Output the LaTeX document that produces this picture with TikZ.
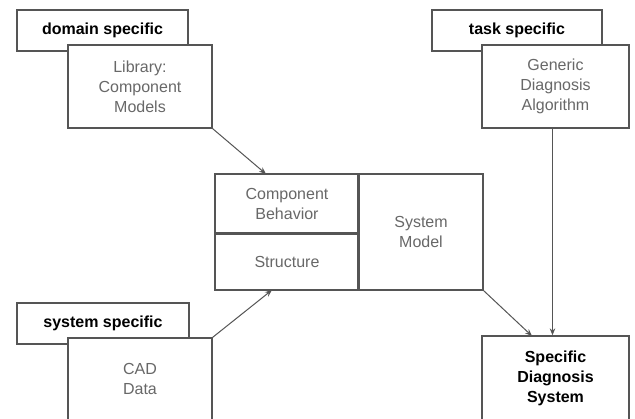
\documentclass[tikz,border=0pt]{standalone}
\usepackage{fontspec}
\setmainfont{Liberation Sans}
\usetikzlibrary{arrows.meta,calc}
\definecolor{linegray}{HTML}{555555}
\definecolor{textgray}{HTML}{686868}
\begin{document}
\begin{tikzpicture}[x=1pt,y=-1pt,
  box/.style={draw=linegray,line width=1.3pt,fill=white,inner sep=0pt,align=center,
    text=textgray,font=\fontsize{16}{20}\selectfont},
  tag/.style={box,text=black,font=\fontsize{16}{20}\selectfont\bfseries},
  conn/.style={draw=linegray,line width=1pt,-{Stealth[length=7pt,width=5.5pt]}}]
\useasboundingbox (0,0) rectangle (635,419);
\fill[white] (0,0) rectangle (635,419);
% top left
\node[tag,minimum width=171pt,minimum height=41pt] (dom) at (102.5,30.5) {domain specific};
\node[box,minimum width=144pt,minimum height=83pt] (lib) at (140,86.5) {Library:\\Component\\Models};
% top right
\node[tag,minimum width=170pt,minimum height=41pt] (task) at (517,30.5) {task specific};
\node[box,minimum width=147pt,minimum height=83pt] (gen) at (555.5,86.5) {Generic\\Diagnosis\\Algorithm};
% bottom left
\node[tag,minimum width=172pt,minimum height=41pt] (sys) at (103,323.5) {system specific};
\node[box,minimum width=144pt,minimum height=82pt] (cad) at (140,379) {CAD\\Data};
% middle
\node[box,minimum width=144pt,minimum height=59pt] (beh) at (287,203.5) {Component\\Behavior};
\node[box,minimum width=144pt,minimum height=57pt] (struct) at (287,261.5) {Structure};
\node[box,minimum width=124pt,minimum height=116pt] (model) at (421,232) {System\\Model};
\draw[linegray,line width=2.2pt] (beh.south west) -- (beh.south east);
\draw[linegray,line width=2.2pt] (model.north west) -- (model.south west);
% bottom right
\node[box,text=black,font=\fontsize{16}{20}\selectfont\bfseries,minimum width=147pt,minimum height=84pt] (spec) at (555.5,378) {Specific\\Diagnosis\\System};
% connectors
\coordinate (behin) at (266,174);
\coordinate (structin) at (272,290);
\coordinate (specin) at (532,336);
\coordinate (genout) at ($(gen.south)+(-3,0)$);
\draw[conn] (lib.south east) -- (behin);
\draw[conn] (cad.north east) -- (structin);
\draw[conn] (model.south east) -- (specin);
\draw[conn] (genout) -- (genout |- spec.north);
\end{tikzpicture}
\end{document}
